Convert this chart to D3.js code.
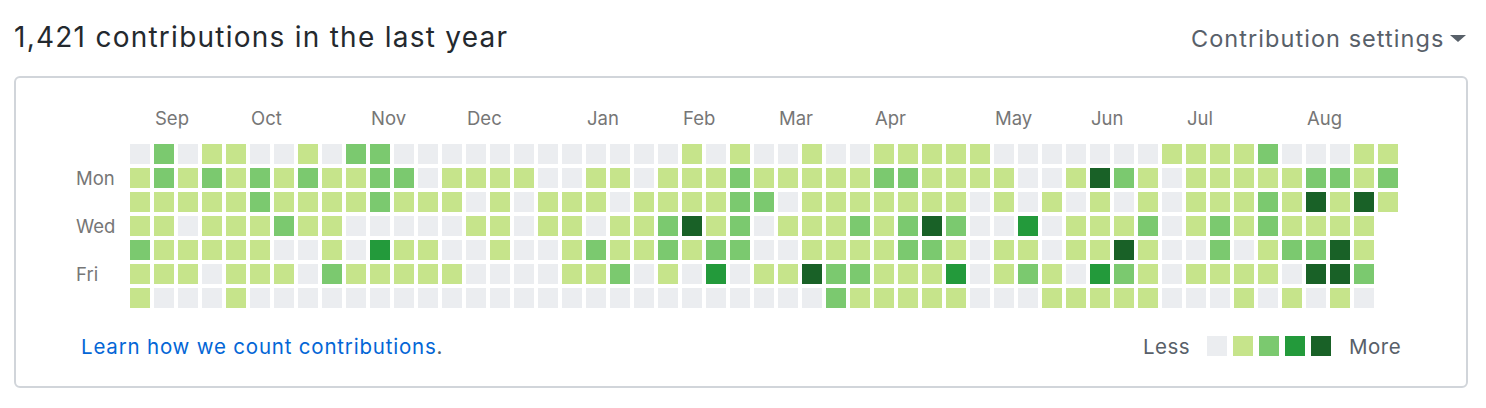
<!DOCTYPE html>
<html>
<head>
<meta charset="utf-8">
<title>Contributions</title>
<style>
  html, body { margin: 0; padding: 0; background: #fff; }
  svg text { font-family: Inter, "Noto Sans", "Liberation Sans", sans-serif; }
</style>
</head>
<body>
<div id="graph"></div>
<script src="https://d3js.org/d3.v7.min.js"></script>
<script>
// contribution levels (0-4), one array per weekday row, one entry per week
var sun = [0,2,0,1,1,0,0,1,0,2,2,0,0, 0,0,0,0,0,0,0,0,0,0,1,0,1, 0,0,1,0,0,1,1,1,1,1,0,0,0, 0,0,0,0,1,1,1,1,2,0,0,0,1,1];
var mon = [1,2,1,2,1,2,1,2,1,1,2,2,0, 1,1,1,1,0,0,1,1,0,1,1,1,2, 1,1,1,1,1,2,2,1,1,1,1,0,0, 1,4,2,1,0,1,1,1,1,1,2,2,1,2];
var tue = [1,1,1,1,1,2,1,1,1,1,2,1,1, 1,0,1,0,1,1,1,0,1,1,1,1,2, 2,0,1,1,1,1,1,1,1,0,1,0,1, 0,1,0,1,0,1,1,1,2,1,4,1,4,1];
var wed = [1,1,0,1,1,1,2,1,1,0,0,0,0, 0,1,1,0,1,1,0,1,1,2,4,1,2, 0,1,1,1,2,1,2,4,2,0,0,3,0, 1,1,1,2,0,1,2,1,2,1,1,1,1];
var thu = [2,1,1,1,1,1,0,0,1,0,3,1,1, 0,0,1,0,0,1,2,1,1,2,1,2,2, 0,0,1,1,1,1,2,2,1,0,1,1,0, 1,1,4,1,0,0,2,0,1,2,2,4,1];
var fri = [1,1,1,0,1,1,1,0,2,1,1,1,1, 1,0,0,0,0,1,1,2,0,1,0,3,0, 1,1,4,2,2,1,1,1,3,0,1,2,1, 0,3,2,1,0,1,1,1,1,0,4,4,2];
var sat = [1,0,0,0,1,0,0,0,0,0,0,0,0, 0,0,0,0,0,0,0,0,0,0,0,0,0, 0,0,0,2,1,1,1,1,1,0,0,0,1, 1,1,1,1,0,0,0,1,0,1,0,1,0];

var dayRows = [sun, mon, tue, wed, thu, fri, sat];
var dayLabels = ["", "Mon", "", "Wed", "", "Fri", ""];
var levelColors = ["#ebedf0", "#c6e48b", "#7bc96f", "#239a3b", "#196127"];
var totalContributions = 1421;
var firstDay = new Date(Date.UTC(2017, 7, 27));   // Sunday of first week
var lastDay = new Date(Date.UTC(2018, 7, 28));

var width = 1486, height = 408;
var nWeeks = sun.length;

var svg = d3.select("#graph").append("svg")
    .attr("width", width)
    .attr("height", height);

// header
svg.append("text")
    .attr("x", 14)
    .attr("y", 47)
    .attr("font-size", 28)
    .attr("letter-spacing", 1.25)
    .attr("fill", "#24292e")
    .text(d3.format(",")(totalContributions) + " contributions in the last year");

svg.append("text")
    .attr("x", 1191)
    .attr("y", 47)
    .attr("font-size", 23.5)
    .attr("letter-spacing", 1.05)
    .attr("fill", "#586069")
    .text("Contribution settings");

svg.append("path")
    .attr("d", "M1450,35L1466,35L1458,42Z")
    .attr("fill", "#586069");

// box
svg.append("rect")
    .attr("x", 15)
    .attr("y", 77)
    .attr("width", 1452)
    .attr("height", 310)
    .attr("rx", 5)
    .attr("fill", "#fff")
    .attr("stroke", "#d1d5da")
    .attr("stroke-width", 2);

var x = d3.scaleBand()
    .domain(d3.range(nWeeks))
    .range([130, 130 + nWeeks * 24 - 4])
    .paddingInner(4 / 24);

var y = d3.scaleBand()
    .domain(d3.range(7))
    .range([144, 144 + 7 * 24 - 4])
    .paddingInner(4 / 24);

var color = d3.scaleOrdinal()
    .domain(d3.range(levelColors.length))
    .range(levelColors);

// cells
var cells = [];
dayRows.forEach(function (row, day) {
    row.forEach(function (level, week) {
        var date = d3.utcDay.offset(firstDay, week * 7 + day);
        if (date <= lastDay) cells.push({week: week, day: day, level: level, date: date});
    });
});

svg.append("g").selectAll("rect")
    .data(cells).enter()
    .append("rect")
    .attr("x", function (d) { return x(d.week); })
    .attr("y", function (d) { return y(d.day); })
    .attr("width", x.bandwidth())
    .attr("height", y.bandwidth())
    .attr("fill", function (d) { return color(d.level); })
    .append("title")
    .text(function (d) { return d3.utcFormat("%b %-d, %Y")(d.date); });

// month labels at first full week of each month
var months = d3.utcMonth.range(d3.utcMonth.ceil(firstDay), lastDay).map(function (m) {
    return {name: d3.utcFormat("%b")(m), week: d3.utcSunday.count(firstDay, d3.utcSunday.ceil(m))};
}).filter(function (m) { return m.week < nWeeks; });

svg.append("g").selectAll("text")
    .data(months).enter()
    .append("text")
    .attr("x", function (d) { return x(d.week) + 1; })
    .attr("y", 125)
    .attr("font-size", 18.5)
    .attr("fill", "#767676")
    .text(function (d) { return d.name; });

// weekday labels
svg.append("g").selectAll("text")
    .data(dayLabels).enter()
    .append("text")
    .attr("x", 76)
    .attr("y", function (d, i) { return y(i) + y.bandwidth() / 2 + 7; })
    .attr("font-size", 18.5)
    .attr("fill", "#767676")
    .text(function (d) { return d; });

// footer
var learn = svg.append("text")
    .attr("x", 81)
    .attr("y", 354)
    .attr("font-size", 20.5)
    .attr("letter-spacing", 0.8);
learn.append("tspan").attr("fill", "#0366d6").text("Learn how we count contributions");
learn.append("tspan").attr("fill", "#586069").text(".");

// legend
var lx = d3.scaleBand()
    .domain(d3.range(levelColors.length))
    .range([1207, 1207 + levelColors.length * 26 - 6])
    .paddingInner(6 / 26);

svg.append("text")
    .attr("x", 1143)
    .attr("y", 354)
    .attr("font-size", 20.5)
    .attr("letter-spacing", 0.5)
    .attr("fill", "#586069")
    .text("Less");

svg.append("g").selectAll("rect")
    .data(levelColors).enter()
    .append("rect")
    .attr("x", function (d, i) { return lx(i); })
    .attr("y", 336)
    .attr("width", lx.bandwidth())
    .attr("height", lx.bandwidth())
    .attr("fill", function (d) { return d; });

svg.append("text")
    .attr("x", 1349)
    .attr("y", 354)
    .attr("font-size", 20.5)
    .attr("letter-spacing", 0.5)
    .attr("fill", "#586069")
    .text("More");
</script>
</body>
</html>
